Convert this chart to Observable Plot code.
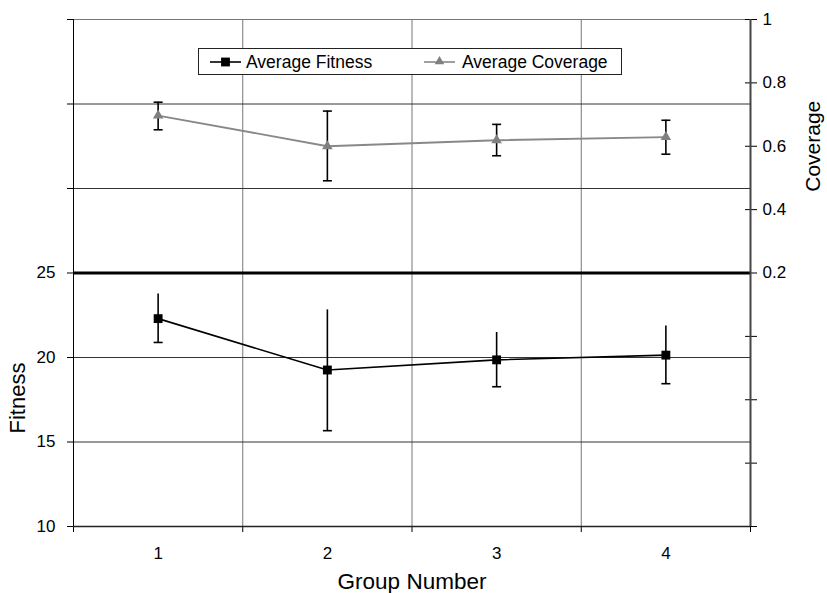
<!DOCTYPE html>
<html>
<head>
<meta charset="utf-8">
<script src="https://cdn.jsdelivr.net/npm/d3@7"></script>
<script src="https://cdn.jsdelivr.net/npm/@observablehq/plot@0.6"></script>
<style>
  body { margin: 0; background: #fff; }
  #wrap { position: relative; width: 827px; height: 593px; font-family: "Liberation Sans", Arial, sans-serif; }
  #legend { position: absolute; left: 198px; top: 48px; width: 422px; height: 25px; border: 1px solid #222; background: #fff; }
  #legend svg { position: absolute; left: 0; top: 0; }
</style>
</head>
<body>
<div id="wrap"></div>
<script>
const groups = [1, 2, 3, 4];
const fitness = [22.3, 19.26, 19.86, 20.14];
const fitnessHigh = [23.76, 22.82, 21.48, 21.87];
const fitnessLow = [20.89, 15.67, 18.27, 18.45];
const coverage = [0.697, 0.600, 0.619, 0.629];
const coverageHigh = [0.739, 0.711, 0.669, 0.682];
const coverageLow = [0.652, 0.491, 0.570, 0.575];
const fitnessTicks = [10, 15, 20, 25, 30, 35, 40];
const fitnessLabels = [10, 15, 20, 25];
const coverageTicks = [-0.6, -0.4, -0.2, 0, 0.2, 0.4, 0.6, 0.8, 1];
const coverageLabels = [0.2, 0.4, 0.6, 0.8, 1];
const xLabels = ["1", "2", "3", "4"];
const seriesNames = ["Average Fitness", "Average Coverage"];

// coverage axis mapped onto the fitness axis: 0.2 ↔ 25, 1 ↔ 40
const cov = v => 25 + (v - 0.2) * 18.75;

const fitRows = groups.map((g, i) => ({g, v: fitness[i], lo: fitnessLow[i], hi: fitnessHigh[i]}));
const covRows = groups.map((g, i) => ({g, v: cov(coverage[i]), lo: cov(coverageLow[i]), hi: cov(coverageHigh[i])}));

const cap = { draw(ctx) { ctx.moveTo(-4.5, 0); ctx.lineTo(4.5, 0); } };

const chart = Plot.plot({
  width: 827,
  height: 593,
  marginLeft: 73,
  marginRight: 77,
  marginTop: 19,
  marginBottom: 67,
  style: { fontFamily: '"Liberation Sans", Arial, sans-serif', fontSize: "17px", color: "#000", background: "#fff", overflow: "visible" },
  x: { domain: [0.5, 4.5] },
  y: { domain: [10, 40] },
  marks: [
    // grid
    Plot.ruleX([1.5, 2.5, 3.5], { stroke: "#777", strokeWidth: 1 }),
    Plot.ruleY([15, 20, 30, 35], { stroke: "#333", strokeWidth: 1 }),
    Plot.ruleY([40], { stroke: "#777", strokeWidth: 1 }),
    Plot.ruleY([25], { stroke: "#000", strokeWidth: 3 }),
    // axes
    Plot.axisY({ anchor: "left", ticks: fitnessTicks, tickSize: 6, tickPadding: 12,
      tickFormat: d => fitnessLabels.includes(d) ? String(d) : "", label: null }),
    Plot.axisY({ anchor: "right", ticks: coverageTicks.map(cov), tickSize: 6, tickPadding: 6,
      tickFormat: d => { const c = Math.round(((d - 25) / 18.75 + 0.2) * 10) / 10; return coverageLabels.includes(c) ? String(c) : ""; }, label: null }),
    Plot.axisY({ anchor: "right", ticks: coverageTicks.map(cov), tickSize: 6, dx: -6, tickFormat: () => "", label: null }),
    Plot.axisX({ anchor: "bottom", ticks: [0.5, 1.5, 2.5, 3.5, 4.5], tickSize: 6, tickFormat: () => "", label: null }),
    Plot.axisX({ anchor: "bottom", ticks: groups, tickSize: 0, tickPadding: 20, tickFormat: (d) => xLabels[groups.indexOf(d)], label: null }),
    Plot.ruleY([10], { stroke: "#222", strokeWidth: 1.5 }),
    Plot.ruleX([0.5], { stroke: "#000", strokeWidth: 1 }),
    Plot.ruleX([4.5], { stroke: "#444", strokeWidth: 2 }),
    // axis titles
    Plot.text(["Fitness"], { x: 0.5, y: 17.6, dx: -56, rotate: -90, fontSize: 22, fill: "#000" }),
    Plot.text(["Coverage"], { x: 4.5, y: cov(0.6), dx: 63, rotate: -90, fontSize: 21, fill: "#000" }),
    Plot.text(["Group Number"], { x: 2.5, y: 10, dy: 55, fontSize: 22.5, fill: "#000" }),
    // coverage series
    Plot.line(covRows, { x: "g", y: "v", stroke: "#888", strokeWidth: 1.8 }),
    Plot.ruleX(covRows, { x: "g", y1: "lo", y2: "hi", stroke: "#000", strokeWidth: 1.6 }),
    Plot.dot(covRows, { x: "g", y: "lo", symbol: cap, fill: "none", stroke: "#000", strokeWidth: 1.6 }),
    Plot.dot(covRows, { x: "g", y: "hi", symbol: cap, fill: "none", stroke: "#000", strokeWidth: 1.6 }),
    Plot.dot(covRows, { x: "g", y: "v", symbol: "triangle", r: 3.9, fill: "#808080", stroke: "none" }),
    // fitness series
    Plot.line(fitRows, { x: "g", y: "v", stroke: "#000", strokeWidth: 1.6 }),
    Plot.ruleX(fitRows, { x: "g", y1: "lo", y2: "hi", stroke: "#000", strokeWidth: 1.6 }),
    Plot.dot(fitRows, { x: "g", y: "lo", symbol: cap, fill: "none", stroke: "#000", strokeWidth: 1.6 }),
    Plot.dot(fitRows, { x: "g", y: "v", symbol: "square", r: 5, fill: "#000", stroke: "none" })
  ]
});

const wrap = document.getElementById("wrap");
wrap.appendChild(chart);

// legend
const legend = document.createElement("div");
legend.id = "legend";
const ns = "http://www.w3.org/2000/svg";
const svg = document.createElementNS(ns, "svg");
svg.setAttribute("width", 422); svg.setAttribute("height", 25);
const items = [
  { name: seriesNames[0], x0: 11, color: "#000", tx: 47, sym: "square" },
  { name: seriesNames[1], x0: 225, color: "#888", tx: 263, sym: "triangle" }
];
for (const it of items) {
  const l = document.createElementNS(ns, "line");
  l.setAttribute("x1", it.x0); l.setAttribute("x2", it.x0 + 31);
  l.setAttribute("y1", 13); l.setAttribute("y2", 13);
  l.setAttribute("stroke", it.color); l.setAttribute("stroke-width", 1.6);
  svg.appendChild(l);
  const p = document.createElementNS(ns, "path");
  const sym = it.sym === "square" ? d3.symbolSquare : d3.symbolTriangle;
  p.setAttribute("d", d3.symbol(sym, it.sym === "square" ? 78 : 40)());
  p.setAttribute("transform", `translate(${it.x0 + 15.5},${it.sym === "square" ? 13 : 12.5})`);
  p.setAttribute("fill", it.sym === "square" ? "#000" : "#808080");
  svg.appendChild(p);
  const t = document.createElementNS(ns, "text");
  t.setAttribute("x", it.tx); t.setAttribute("y", 19);
  t.setAttribute("font-size", 17.5); t.setAttribute("font-family", '"Liberation Sans", Arial, sans-serif');
  t.textContent = it.name;
  svg.appendChild(t);
}
legend.appendChild(svg);
wrap.appendChild(legend);
</script>
</body>
</html>
